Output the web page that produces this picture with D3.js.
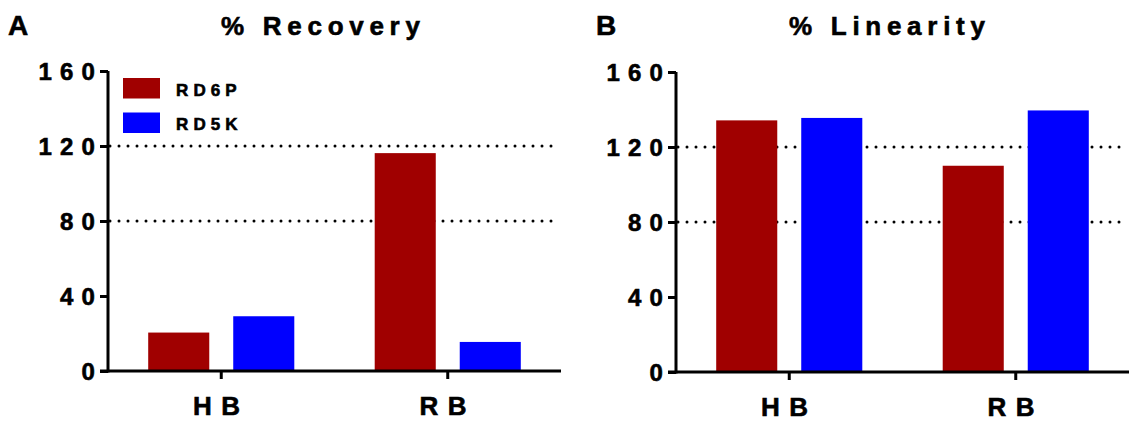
<!DOCTYPE html>
<html>
<head>
<meta charset="utf-8">
<style>
  body { margin: 0; background: #fff; }
  svg, svg text { font-family: "Liberation Sans", Arial, sans-serif; font-weight: bold; }
  svg text { stroke: #000; stroke-width: 0.6px; }
</style>
</head>
<body>
<svg width="1133" height="421"></svg>

<script src="https://cdnjs.cloudflare.com/ajax/libs/d3/7.8.5/d3.min.js"></script>
<script>
var groups = ["HB", "RB"];
var seriesNames = ["RD6P", "RD5K"];
var colors = ["#a00000", "#0000ff"];

var recoveryRD6P = [20.5, 116.2];
var recoveryRD5K = [29.2, 15.5];
var linearityRD6P = [134.2, 110.0];
var linearityRD5K = [135.5, 139.5];

var yTicks = [0, 40, 80, 120, 160];
var refLines = [80, 120];

var W = 453, H = 300;
var svg = d3.select("svg");

function panel(left, top, letter, letterX, title, s1, s2, showLegend) {
  var g = svg.append("g").attr("transform", "translate(" + left + "," + top + ")");

  var x0 = d3.scaleBand().domain(groups).range([0, W])
    .paddingInner(0.355).paddingOuter(0.1775);
  var x1 = d3.scaleBand().domain(seriesNames).range([0, x0.bandwidth()])
    .paddingInner(0.282);
  var y = d3.scaleLinear().domain([0, 160]).range([H, 0]);

  var rows = groups.map(function(gr, i) {
    return { group: gr, values: [s1[i], s2[i]] };
  });

  // dotted reference lines at 80 and 120
  g.selectAll(".ref").data(refLines).enter().append("line")
    .attr("x1", 2).attr("x2", W - 8)
    .attr("y1", function(d) { return y(d); })
    .attr("y2", function(d) { return y(d); })
    .attr("stroke", "#000").attr("stroke-width", 3)
    .attr("stroke-linecap", "round")
    .attr("stroke-dasharray", "0,9");

  var gg = g.selectAll(".grp").data(rows).enter().append("g")
    .attr("transform", function(d) { return "translate(" + x0(d.group) + ",0)"; });
  gg.selectAll("rect").data(function(d) { return d.values; }).enter().append("rect")
    .attr("x", function(d, i) { return x1(seriesNames[i]); })
    .attr("width", x1.bandwidth())
    .attr("y", function(d) { return y(d); })
    .attr("height", function(d) { return H - y(d); })
    .attr("fill", function(d, i) { return colors[i]; });

  // y axis
  var ya = g.append("g").call(d3.axisLeft(y).tickValues(yTicks).tickSize(8));
  ya.attr("font-family", null).attr("font-size", null);
  ya.select(".domain").attr("stroke-width", 3).attr("d", "M0," + (H + 1.5) + "V0");
  ya.selectAll(".tick line").attr("stroke-width", 3);
  ya.selectAll(".tick text")
    .attr("x", -5).attr("dy", "0.36em")
    .style("font-size", "24px")
    .style("letter-spacing", "0.34em").attr("fill", "#000");

  // x axis
  var xa = g.append("g").attr("transform", "translate(0," + H + ")")
    .call(d3.axisBottom(x0).tickSize(8).tickPadding(18).tickSizeOuter(0));
  xa.attr("font-family", null).attr("font-size", null);
  xa.select(".domain").attr("stroke-width", 3).attr("d", "M-8,0H" + W);
  xa.selectAll(".tick line").attr("stroke-width", 3);
  xa.selectAll(".tick text")
    .style("font-size", "26px")
    .style("letter-spacing", "0.36em").attr("fill", "#000");

  g.selectAll(".domain, .tick line").attr("stroke", "#000");

  // titles
  svg.append("text").attr("x", left + 113).attr("y", 35)
    .style("font-size", "26px").style("letter-spacing", "0.22em")
    .text(title);
  svg.append("text").attr("x", letterX).attr("y", 35)
    .style("font-size", "28px")
    .text(letter);

  if (showLegend) {
    var lg = g.selectAll(".leg").data(seriesNames).enter().append("g")
      .attr("transform", function(d, i) { return "translate(15," + (7 + i * 34.5) + ")"; });
    lg.append("rect").attr("width", 37).attr("height", 20.5)
      .attr("fill", function(d, i) { return colors[i]; });
    lg.append("text").attr("x", 53).attr("y", 17.5)
      .style("font-size", "17px").style("letter-spacing", "0.3em")
      .text(function(d) { return d; });
  }
}

panel(108, 71, "A", 8, "% Recovery", recoveryRD6P, recoveryRD5K, true);
panel(676, 72, "B", 596, "% Linearity", linearityRD6P, linearityRD5K, false);
</script>
</body>
</html>
